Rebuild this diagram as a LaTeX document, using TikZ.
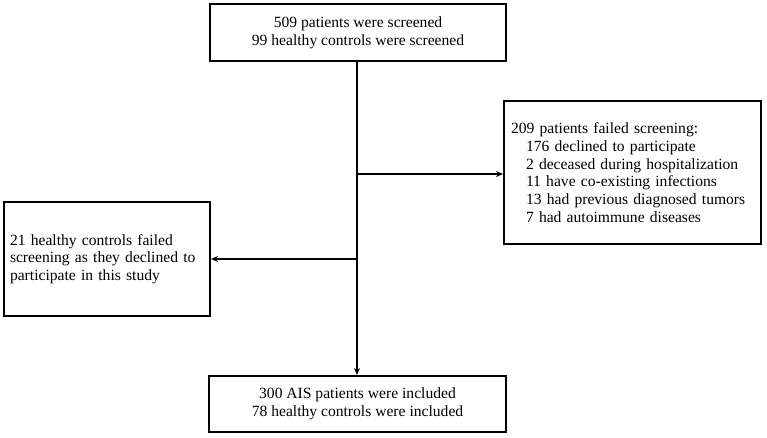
\documentclass[tikz,border=0pt]{standalone}
\usepackage{fontspec}
\setmainfont{Liberation Serif}
\usetikzlibrary{arrows.meta}
\begin{document}
\begin{tikzpicture}[x=1pt,y=-1pt,
  box/.style={draw=black,line width=2pt,rectangle,inner ysep=0pt,
    font=\fontsize{15.6}{17.8}\selectfont},
  conn/.style={line width=2pt,-{Stealth[length=7pt,width=6pt]}}]
\useasboundingbox[fill=white] (0,0) rectangle (767,437);
\node[box,minimum width=296pt,minimum height=57pt,align=center] (top) at (358,32.5)
  {509 patients were screened\\99 healthy controls were screened};
\node[box,minimum width=257pt,minimum height=143pt,text width=243pt,inner xsep=7pt,align=left] (right) at (632.5,172.5)
  {209 patients failed screening:\\
   \hspace*{15pt}176 declined to participate\\
   \hspace*{15pt}2 deceased during hospitalization\\
   \hspace*{15pt}11 have co-existing infections\\
   \hspace*{15pt}13 had previous diagnosed tumors\\
   \hspace*{15pt}7 had autoimmune diseases};
\node[box,minimum width=206pt,minimum height=114pt,text width=194pt,inner xsep=6pt,align=left] (left) at (107,259)
  {21 healthy controls failed\\screening as they declined to\\participate in this study};
\node[box,minimum width=297pt,minimum height=56pt,align=center] (bottom) at (357.5,404)
  {300 AIS patients were included\\78 healthy controls were included};
\coordinate (s) at (357,61);
\coordinate (e) at (357,376);
\coordinate (jr) at (357,174);
\coordinate (jl) at (357,259);
\draw[conn] (top.south -| s) -- (bottom.north -| s);
\draw[conn] (jr) -- (right.west |- jr);
\draw[conn] (jl) -- (left.east |- jl);
\end{tikzpicture}
\end{document}
